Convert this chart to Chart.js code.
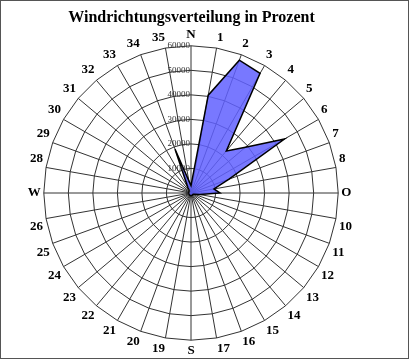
<!DOCTYPE html>
<html>
<head>
<meta charset="utf-8">
<script src="https://cdn.jsdelivr.net/npm/chart.js@4.4.0/dist/chart.umd.min.js"></script>
<style>
  body { margin: 0; background: #fff; }
  #wrap { width: 409px; height: 359px; }
</style>
</head>
<body>
<div id="wrap"><canvas id="myChart"></canvas></div>
<script>
// Richtungen (36 Sektoren a 10 Grad)
var richtungen = ['N','1','2','3','4','5','6','7','8','O','10','11','12','13','14','15','16','17',
                  'S','19','20','21','22','23','24','25','26','W','28','29','30','31','32','33','34','35'];
var werte = [3000, 40500, 57600, 56300, 22400, 29000, 44000, 16500, 9500, 11800, 3700, 1500,
             1000, 1000, 1000, 1000, 1000, 1000, 1000, 1000, 1000, 1000, 1000, 1000,
             1000, 1000, 1000, 1000, 1000, 1000, 1000, 1000, 1000, 2500, 19000, 5000];
var tickWerte = [0, 10000, 20000, 30000, 40000, 50000, 60000];

// Rahmen um das ganze Bild + Achsenwerte
var rahmen = {
  id: 'rahmen',
  beforeDraw: function (chart) {
    var ctx = chart.ctx;
    ctx.save();
    ctx.fillStyle = '#fff';
    ctx.fillRect(0, 0, chart.width, chart.height);
    ctx.restore();
  },
  afterDraw: function (chart) {
    var ctx = chart.ctx;
    var s = chart.scales.r;
    ctx.save();
    // Achsenbeschriftung links neben der N-Achse
    ctx.font = '9px "Liberation Serif"';
    ctx.textAlign = 'right';
    ctx.textBaseline = 'middle';
    ctx.fillStyle = '#333';
    tickWerte.forEach(function (v) {
      var r = s.getDistanceFromCenterForValue(v);
      ctx.fillText(String(v), s.xCenter - 1, s.yCenter - r);
    });
    ctx.strokeStyle = '#555';
    ctx.lineWidth = 1;
    ctx.strokeRect(0.5, 0.5, chart.width - 1, chart.height - 1);
    ctx.restore();
  }
};

var ctx = document.getElementById('myChart');
new Chart(ctx, {
  type: 'radar',
  data: {
    labels: richtungen,
    datasets: [{
      label: 'Windrichtung',
      data: werte,
      backgroundColor: 'rgba(96, 96, 255, 0.85)',
      borderColor: '#000',
      borderWidth: 1.5,
      pointRadius: 0,
      fill: true
    }]
  },
  options: {
    responsive: true,
    maintainAspectRatio: false,
    animation: false,
    layout: { padding: { left: 0, right: 26, top: 0, bottom: -2 } },
    plugins: {
      legend: { display: false },
      tooltip: { enabled: false },
      title: {
        display: true,
        text: 'Windrichtungsverteilung in Prozent',
        color: '#000',
        font: { family: '"Liberation Serif"', size: 16, weight: 'bold' },
        padding: { top: 8, bottom: 0 }
      }
    },
    scales: {
      r: {
        min: 0,
        max: 60000,
        ticks: { stepSize: 10000, display: false },
        grid: { color: '#333', lineWidth: 1 },
        angleLines: { color: '#333', lineWidth: 1 },
        pointLabels: {
          color: '#000',
          padding: 3,
          font: { family: '"Liberation Serif"', size: 13, weight: 'bold' }
        }
      }
    }
  },
  plugins: [rahmen]
});
</script>
</body>
</html>
